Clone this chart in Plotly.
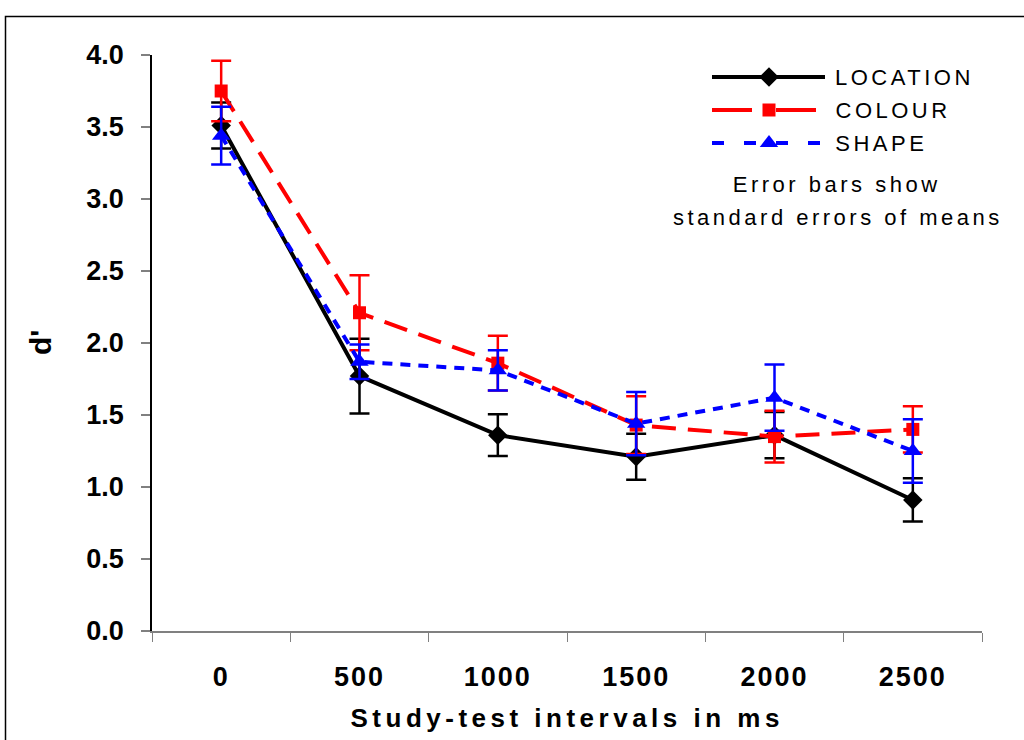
import plotly.graph_objects as go

# ---------------- data ----------------
intervals = ["0", "500", "1000", "1500", "2000", "2500"]
location = [3.51, 1.77, 1.36, 1.21, 1.36, 0.91]
location_se = [0.16, 0.26, 0.145, 0.16, 0.16, 0.15]
colour = [3.75, 2.21, 1.86, 1.43, 1.35, 1.40]
colour_se = [0.21, 0.26, 0.19, 0.20, 0.18, 0.16]
shape = [3.44, 1.87, 1.81, 1.44, 1.62, 1.25]
shape_se = [0.20, 0.12, 0.14, 0.22, 0.23, 0.22]
y_ticks = [0.0, 0.5, 1.0, 1.5, 2.0, 2.5, 3.0, 3.5, 4.0]

# plot area in pixels
L, R, T, B = 152, 982, 55, 631
W, H = 1024, 740


def px_x(p):
    return (p - L) / (R - L)


def px_y(p):
    return (B - p) / (B - T)


FONT = "Liberation Sans"
LEG_SPACING = 3.5

series = [
    ("LOCATION", location, location_se, "black", "solid", "solid", "diamond", 15),
    ("COLOUR", colour, colour_se, "#ff0000", "24px,12px", "40px,24px", "square", 13),
    ("SHAPE", shape, shape_se, "#0000ff", "10px,8px", "12px,20px", "triangle-up", 16),
]

fig = go.Figure()
for name, vals, se, col, dash, ldash, sym, msz in series:
    fig.add_trace(go.Scatter(
        x=intervals, y=vals, name=name, mode="lines+markers",
        line=dict(color=col, width=4, dash=dash),
        marker=dict(symbol=sym, size=msz, color=col, line=dict(width=0)),
        error_y=dict(type="data", array=se, visible=True, color=col,
                     thickness=2.5, width=10),
        showlegend=False,
    ))

# custom legend keys on an overlay axis in pixel coordinates
leg_rows = [77, 110, 143]
for (name, vals, se, col, dash, ldash, sym, msz), yy in zip(series, leg_rows):
    fig.add_trace(go.Scatter(
        x=[712, 825], y=[yy, yy], xaxis="x2", yaxis="y2", mode="lines",
        line=dict(color=col, width=4, dash=ldash), showlegend=False,
        hoverinfo="skip"))
    fig.add_trace(go.Scatter(
        x=[769], y=[yy], xaxis="x2", yaxis="y2", mode="markers",
        marker=dict(symbol=sym, size=msz, color=col), showlegend=False,
        hoverinfo="skip"))
    fig.add_annotation(x=833, y=yy, xref="x2", yref="y2", text=name,
                       showarrow=False, xanchor="left", yanchor="middle",
                       xshift=len(name) * LEG_SPACING / 2,
                       font=dict(family=FONT, size=22, color="black"))

fig.add_annotation(x=836, y=184, xref="x2", yref="y2", text="Error bars show",
                   showarrow=False, xanchor="center", yanchor="middle",
                   font=dict(family=FONT, size=22, color="black"))
fig.add_annotation(x=838, y=217, xref="x2", yref="y2",
                   text="standard errors of means",
                   showarrow=False, xanchor="center", yanchor="middle",
                   font=dict(family=FONT, size=22, color="black"))

# axis titles
fig.add_annotation(x=px_x(567), y=px_y(718), xref="paper", yref="paper",
                   text="<b>Study-test intervals in ms</b>", showarrow=False,
                   xanchor="center", yanchor="middle",
                   font=dict(family=FONT, size=26, color="black"))
fig.add_annotation(x=px_x(40), y=px_y(343), xref="paper", yref="paper",
                   text="<b>d'</b>", showarrow=False, textangle=-90,
                   xanchor="center", yanchor="middle",
                   font=dict(family=FONT, size=30, color="black"))

# outer frame
fig.add_shape(type="rect", xref="paper", yref="paper",
              x0=px_x(5.5), x1=px_x(1040), y0=px_y(760), y1=px_y(16.5),
              line=dict(color="black", width=1.5), fillcolor="rgba(0,0,0,0)")

fig.update_layout(
    width=W, height=H,
    margin=dict(l=L, r=W - R, t=T, b=H - B),
    paper_bgcolor="white", plot_bgcolor="white",
    showlegend=False,
    xaxis=dict(
        type="category", range=[-0.5, 5.5], tickson="boundaries",
        ticks="outside", ticklen=9, tickcolor="#808080", tickwidth=1,
        showline=True, linecolor="#808080", linewidth=1.5,
        showgrid=False, zeroline=False,
        tickfont=dict(family=FONT, size=27, color="black", weight="bold"),
        ticklabelstandoff=21,
    ),
    yaxis=dict(
        range=[0, 4], tickvals=y_ticks, tickformat=".1f",
        ticks="outside", ticklen=9, tickcolor="#808080", tickwidth=1.5,
        showline=True, linecolor="black", linewidth=1.5,
        showgrid=False, zeroline=False,
        tickfont=dict(family=FONT, size=27, color="black", weight="bold"),
        ticklabelstandoff=12,
    ),
    xaxis2=dict(overlaying="x", range=[L, R], visible=False, fixedrange=True),
    yaxis2=dict(overlaying="y", range=[B, T], visible=False, fixedrange=True),
)

# widen letter spacing of texts to match the spaced-out lettering of the original
post = """
var gd = document.getElementsByClassName('plotly-graph-div')[0];
function spacing(){
  gd.querySelectorAll('.xtick text').forEach(function(t){t.style.letterSpacing='2px';});
  gd.querySelectorAll('.annotation-text').forEach(function(t){
    var s = t.textContent;
    if (s.indexOf('Study') === 0) { t.style.letterSpacing = '4.5px'; }
    else if (s === "d'") { }
    else { t.style.letterSpacing = '%spx'; }
  });
}
spacing();
gd.on('plotly_afterplot', spacing);
""" % LEG_SPACING

fig.write_html("out.html", post_script=post)
